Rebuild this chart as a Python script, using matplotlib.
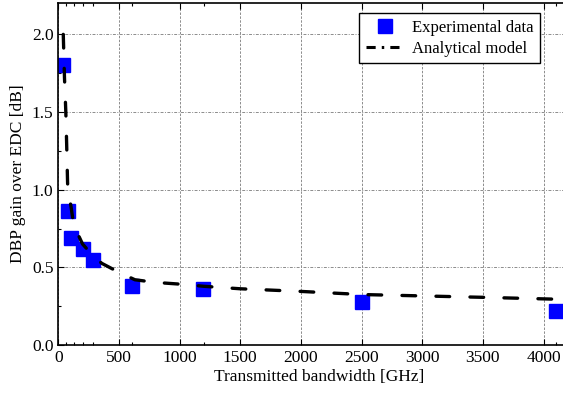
import matplotlib
matplotlib.use("Agg")
import matplotlib.pyplot as plt
from matplotlib.lines import Line2D
from matplotlib.ticker import MultipleLocator, FixedLocator

# Experimental data
exp_bw = [41, 82, 107, 200, 283, 610, 1195, 2500, 4100]
exp_gain = [1.80, 0.865, 0.687, 0.62, 0.55, 0.38, 0.36, 0.28, 0.22]

# Analytical model
mod_bw = [41, 51, 62, 69, 76, 78, 105, 124, 152, 200, 280, 358, 500, 632,
          800, 1000, 1200, 1500, 2000, 2500, 3000, 3500, 4100]
mod_gain = [2.0, 1.72, 1.50, 1.29, 1.06, 1.01, 0.89, 0.79, 0.73, 0.65, 0.58,
            0.526, 0.468, 0.42, 0.403, 0.392, 0.378, 0.362, 0.345, 0.325,
            0.316, 0.307, 0.295]

xticks = [0, 500, 1000, 1500, 2000, 2500, 3000, 3500, 4000]
xminor = [64, 132, 206, 283, 605, 1200, 4100]
yticks = [0.0, 0.5, 1.0, 1.5, 2.0]

plt.rcParams['font.family'] = ['Liberation Serif', 'DejaVu Serif']
plt.rcParams['mathtext.fontset'] = 'stix'

fig = plt.figure(figsize=(5.63, 4.03), dpi=100)
W, H = 563, 403
ax = fig.add_axes([58.3 / W, (H - 345) / H, 521.6 / W, 341.7 / H])

ax.plot(mod_bw, mod_gain, color='black', lw=2.4, dashes=(4.1, 6.1),
        solid_capstyle='round', dash_capstyle='round', zorder=3)
ax.plot(exp_bw, exp_gain, linestyle='none', marker='s', markersize=10,
        markerfacecolor=(0, 0, 1), markeredgecolor=(0, 0, 1), zorder=2)

ax.set_xlim(0, 4300)
ax.set_ylim(0, 2.2)
ax.set_xticks(xticks)
ax.set_yticks(yticks)
ax.set_yticklabels([f"{v:.1f}" for v in yticks])
ax.xaxis.set_minor_locator(FixedLocator(xminor))
ax.yaxis.set_minor_locator(MultipleLocator(0.25))
ax.tick_params(which='both', direction='in', top=True, right=True,
               labelsize=12.5, color='black')
ax.tick_params(which='major', length=4, width=0.8)
ax.tick_params(which='minor', length=2.5, width=0.8)

ax.grid(True, which='major', axis='x', color='0.55', lw=0.7, linestyle=(0, (2.5, 1.5)))
ax.grid(True, which='major', axis='y', color='0.55', lw=0.7, linestyle=(0, (3, 1.5, 1, 1.5)))
ax.set_axisbelow(True)
for s in ax.spines.values():
    s.set_linewidth(1.2)

ax.set_xlabel('Transmitted bandwidth [GHz]', fontsize=12.5, labelpad=2)
ax.set_ylabel('DBP gain over EDC [dB]', fontsize=12.5, labelpad=4)

h1 = Line2D([], [], linestyle='none', marker='s', markersize=10,
            markerfacecolor=(0, 0, 1), markeredgecolor=(0, 0, 1))
h2 = Line2D([], [], color='black', lw=2.2, dashes=(3, 2, 0.8, 2))
leg = ax.legend([h1, h2], ['Experimental data', 'Analytical model'],
                loc='upper right', bbox_to_anchor=(540 / W, (H - 13) / H),
                bbox_transform=fig.transFigure, borderaxespad=0,
                fancybox=False, framealpha=1, edgecolor='black',
                fontsize=12, handlelength=2.3, handletextpad=0.45,
                borderpad=0.4, labelspacing=0.3)
leg.get_frame().set_linewidth(1.0)

fig.savefig('out.png', dpi=100)
